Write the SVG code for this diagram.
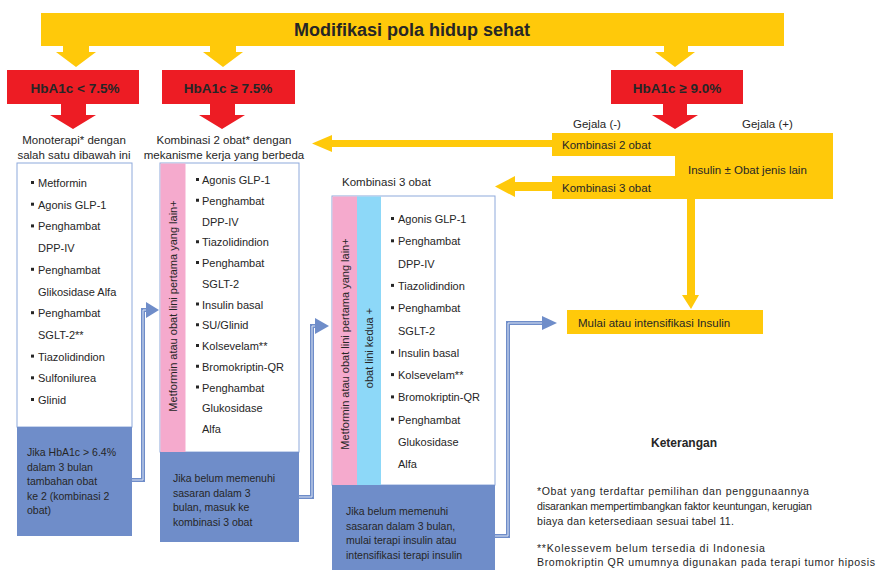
<svg xmlns="http://www.w3.org/2000/svg" width="879" height="572" viewBox="0 0 879 572">
<style>
text{font-family:"Liberation Sans",Arial,sans-serif;fill:#262626}
.t{font-size:11.5px}
.li{font-size:11px}
.bl{font-size:10.5px}
.nt{font-size:10.6px}
.hb{font-size:13.5px;font-weight:bold;text-anchor:middle}
.yl{fill:#FFC90A}
.rd{fill:#ED1C24}
.wb{fill:#fff;stroke:#8EA9DB;stroke-width:1}
.bb{fill:#6F8DC9}
.pk{fill:#F5AACD}
.cy{fill:#8DD8F8}
.bu{fill:#262626}
.cn{fill:none;stroke:#6F8DC9;stroke-width:4}
.ci{fill:none;stroke:#DCE4F4;stroke-width:1}
.ah{fill:#6F8DC9}
</style>

<g id="banner">
<rect class="yl" x="41" y="13" width="743" height="33"/>
<text x="412" y="36" style="font-size:18px;font-weight:bold" text-anchor="middle">Modifikasi pola hidup sehat</text>
</g>

<g id="hba1c-low">
<rect class="rd" x="7" y="70" width="132" height="34"/>
<text class="hb" x="75" y="93">HbA1c &lt; 7.5%</text>
</g>
<g id="hba1c-mid">
<rect class="rd" x="162" y="70" width="133" height="34"/>
<text class="hb" x="228" y="93">HbA1c ≥ 7.5%</text>
</g>
<g id="hba1c-high">
<rect class="rd" x="611" y="70" width="132" height="34"/>
<text class="hb" x="677" y="93">HbA1c ≥ 9.0%</text>
</g>

<g id="connectors">
<polygon class="yl" points="63,46 89,46 89,52 96,52 76,67 56,52 63,52"/>
<polygon class="yl" points="210,46 236,46 236,52 243,52 223,67 203,52 210,52"/>
<polygon class="yl" points="664,46 688,46 688,52 695,52 675,67 655,52 664,52"/>
<polygon class="rd" points="61,104 86,104 86,115 96,115 73,129 50,115 61,115"/>
<polygon class="rd" points="210,104 235,104 235,115 245,115 222,129 199,115 210,115"/>
<polygon class="rd" points="663,104 687,104 687,115 698,115 675,129 652,115 663,115"/>
<polygon class="yl" points="553,140 553,147 332,147 332,152 312,143.5 332,135 332,140"/>
<polygon class="yl" points="553,182 553,191 515,191 515,197 495,186.5 515,176 515,182"/>
<polygon class="yl" points="687,199 695,199 695,295 699,295 691,309 682,295 687,295"/>
<polyline class="cn" points="132,480 143,480 143,310 147,310"/>
<polyline class="ci" points="132,480 143,480 143,310 147,310"/>
<polygon class="ah" points="146,302 159,310 146,318"/>
<polyline class="cn" points="299,497 312,497 312,326 316,326"/>
<polyline class="ci" points="299,497 312,497 312,326 316,326"/>
<polygon class="ah" points="315,318 329,326 315,334"/>
<polyline class="cn" points="495,536 508,536 508,323 543,323"/>
<polyline class="ci" points="495,536 508,536 508,323 543,323"/>
<polygon class="ah" points="542,316 557,323 542,330"/>
</g>

<g id="mono-label">
<text class="t" x="74" y="144" text-anchor="middle">Monoterapi* dengan</text>
<text class="t" x="74" y="159" text-anchor="middle">salah satu dibawah ini</text>
</g>

<g id="combo2-label">
<text class="t" x="224" y="144" text-anchor="middle">Kombinasi 2 obat* dengan</text>
<text class="t" x="224" y="159" text-anchor="middle">mekanisme kerja yang berbeda</text>
</g>

<g id="mono-box">
<rect class="wb" x="17" y="163" width="115" height="264"/>
<rect class="bb" x="17" y="427" width="115" height="109"/>
<rect class="bu" x="31" y="181" width="3" height="3"/><text class="li" x="38" y="187">Metformin</text>
<rect class="bu" x="31" y="202.7" width="3" height="3"/><text class="li" x="38" y="208.7">Agonis GLP-1</text>
<rect class="bu" x="31" y="224.4" width="3" height="3"/><text class="li" x="38" y="230.4">Penghambat</text>
<text class="li" x="38" y="252.1">DPP-IV</text>
<rect class="bu" x="31" y="267.8" width="3" height="3"/><text class="li" x="38" y="273.8">Penghambat</text>
<text class="li" x="38" y="295.5">Glikosidase Alfa</text>
<rect class="bu" x="31" y="311.2" width="3" height="3"/><text class="li" x="38" y="317.2">Penghambat</text>
<text class="li" x="38" y="338.9">SGLT-2**</text>
<rect class="bu" x="31" y="354.6" width="3" height="3"/><text class="li" x="38" y="360.6">Tiazolidindion</text>
<rect class="bu" x="31" y="376.3" width="3" height="3"/><text class="li" x="38" y="382.3">Sulfonilurea</text>
<rect class="bu" x="31" y="398" width="3" height="3"/><text class="li" x="38" y="404">Glinid</text>
<text class="bl" x="27" y="456">Jika HbA1c &gt; 6.4%</text>
<text class="bl" x="27" y="470.5">dalam 3 bulan</text>
<text class="bl" x="27" y="485">tambahan obat</text>
<text class="bl" x="27" y="499.5">ke 2 (kombinasi 2</text>
<text class="bl" x="27" y="514">obat)</text>
</g>

<g id="combo2-box">
<rect class="wb" x="160" y="163" width="139" height="289"/>
<rect class="pk" x="160.5" y="163.5" width="25" height="288.5"/>
<rect class="bb" x="160" y="452" width="139" height="90"/>
<text class="li" transform="translate(176.5,306) rotate(-90)" text-anchor="middle">Metformin atau obat lini pertama yang lain+</text>
<rect class="bu" x="196" y="178" width="3" height="3"/><text class="li" x="202" y="184">Agonis GLP-1</text>
<rect class="bu" x="196" y="198.75" width="3" height="3"/><text class="li" x="202" y="204.75">Penghambat</text>
<text class="li" x="202" y="225.5">DPP-IV</text>
<rect class="bu" x="196" y="240.25" width="3" height="3"/><text class="li" x="202" y="246.25">Tiazolidindion</text>
<rect class="bu" x="196" y="261" width="3" height="3"/><text class="li" x="202" y="267">Penghambat</text>
<text class="li" x="202" y="287.75">SGLT-2</text>
<rect class="bu" x="196" y="302.5" width="3" height="3"/><text class="li" x="202" y="308.5">Insulin basal</text>
<rect class="bu" x="196" y="323.25" width="3" height="3"/><text class="li" x="202" y="329.25">SU/Glinid</text>
<rect class="bu" x="196" y="344" width="3" height="3"/><text class="li" x="202" y="350">Kolsevelam**</text>
<rect class="bu" x="196" y="364.75" width="3" height="3"/><text class="li" x="202" y="370.75">Bromokriptin-QR</text>
<rect class="bu" x="196" y="385.5" width="3" height="3"/><text class="li" x="202" y="391.5">Penghambat</text>
<text class="li" x="202" y="412.25">Glukosidase</text>
<text class="li" x="202" y="433">Alfa</text>
<text class="bl" x="173" y="482">Jika belum memenuhi</text>
<text class="bl" x="173" y="496.5">sasaran dalam 3</text>
<text class="bl" x="173" y="511">bulan, masuk ke</text>
<text class="bl" x="173" y="525.5">kombinasi 3 obat</text>
</g>

<g id="combo3-label">
<text class="t" x="342" y="186">Kombinasi 3 obat</text>
</g>

<g id="combo3-box">
<rect class="wb" x="332" y="196" width="163" height="289"/>
<rect class="pk" x="332.5" y="196.5" width="24.5" height="288.5"/>
<rect class="cy" x="357" y="196.5" width="24" height="288.5"/>
<rect class="bb" x="332" y="485" width="163" height="85"/>
<text class="li" transform="translate(348.5,344) rotate(-90)" text-anchor="middle">Metformin atau obat lini pertama yang lain+</text>
<text class="li" transform="translate(373,348) rotate(-90)" text-anchor="middle">obat lini kedua +</text>
<rect class="bu" x="391" y="217" width="3" height="3"/><text class="li" x="398" y="223">Agonis GLP-1</text>
<rect class="bu" x="391" y="239.3" width="3" height="3"/><text class="li" x="398" y="245.3">Penghambat</text>
<text class="li" x="398" y="267.6">DPP-IV</text>
<rect class="bu" x="391" y="283.9" width="3" height="3"/><text class="li" x="398" y="289.9">Tiazolidindion</text>
<rect class="bu" x="391" y="306.2" width="3" height="3"/><text class="li" x="398" y="312.2">Penghambat</text>
<text class="li" x="398" y="334.5">SGLT-2</text>
<rect class="bu" x="391" y="350.8" width="3" height="3"/><text class="li" x="398" y="356.8">Insulin basal</text>
<rect class="bu" x="391" y="373.1" width="3" height="3"/><text class="li" x="398" y="379.1">Kolsevelam**</text>
<rect class="bu" x="391" y="395.4" width="3" height="3"/><text class="li" x="398" y="401.4">Bromokriptin-QR</text>
<rect class="bu" x="391" y="417.7" width="3" height="3"/><text class="li" x="398" y="423.7">Penghambat</text>
<text class="li" x="398" y="446">Glukosidase</text>
<text class="li" x="398" y="468.3">Alfa</text>
<text class="bl" x="346" y="515">Jika belum memenuhi</text>
<text class="bl" x="346" y="529.5">sasaran dalam 3 bulan,</text>
<text class="bl" x="346" y="544">mulai terapi insulin atau</text>
<text class="bl" x="346" y="558.5">intensifikasi terapi insulin</text>
</g>

<g id="gejala-labels">
<text class="t" x="573" y="128">Gejala (-)</text>
<text class="t" x="742" y="128">Gejala (+)</text>
</g>

<g id="high-options">
<polygon class="yl" points="552,133 833,133 833,199 552,199 552,176 675,176 675,156 552,156"/>
<text class="t" x="562" y="149">Kombinasi 2 obat</text>
<text class="t" x="688" y="174">Insulin ± Obat jenis lain</text>
<text class="t" x="562" y="192">Kombinasi 3 obat</text>
</g>

<g id="mulai">
<rect class="yl" x="567" y="310" width="196" height="24"/>
<text class="t" x="578" y="327">Mulai atau intensifikasi Insulin</text>
</g>

<g id="keterangan">
<text x="651" y="447" style="font-size:12px;font-weight:bold">Keterangan</text>
<text class="nt" x="537" y="495" textLength="272" lengthAdjust="spacing">*Obat yang terdaftar pemilihan dan penggunaannya</text>
<text class="nt" x="537" y="510" textLength="275" lengthAdjust="spacing">disarankan mempertimbangkan faktor keuntungan, kerugian</text>
<text class="nt" x="537" y="525" textLength="197" lengthAdjust="spacing">biaya dan ketersediaan sesuai tabel 11.</text>
<text class="nt" x="537" y="552" textLength="228" lengthAdjust="spacing">**Kolessevem belum tersedia di Indonesia</text>
<text class="nt" x="537" y="566" textLength="338" lengthAdjust="spacing">Bromokriptin QR umumnya digunakan pada terapi tumor hiposis</text>
</g>
</svg>
